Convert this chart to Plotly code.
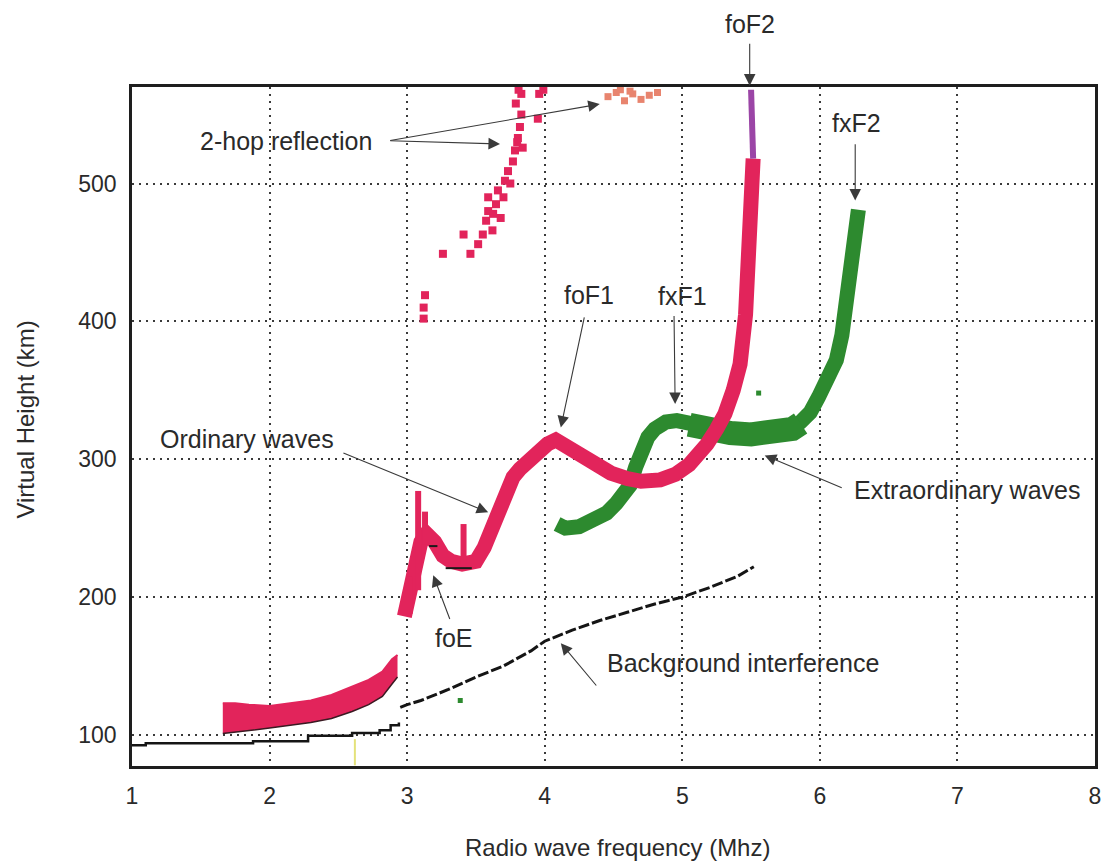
import plotly.graph_objects as go

# ---------------- data ----------------
# E-layer ordinary trace (band)
e_f = [1.66, 1.75, 1.85, 2.0, 2.15, 2.3, 2.45, 2.6, 2.72, 2.82, 2.89, 2.93]
e_low = [101, 102, 103, 105, 107, 109, 112, 117, 122, 128, 137, 142]
e_up = [123, 123, 122, 121, 123, 125, 129, 135, 140, 146, 155, 158]

# F-layer ordinary trace (centre line)
o_f = [2.98, 3.0, 3.04, 3.08, 3.1, 3.14, 3.2, 3.26, 3.32, 3.4, 3.5, 3.56, 3.62, 3.67,
       3.72, 3.77, 3.82, 3.88, 3.95, 4.02, 4.08, 4.15, 4.24, 4.35, 4.48, 4.6, 4.7,
       4.84, 4.95, 5.05, 5.12, 5.18, 5.25, 5.31, 5.37, 5.42, 5.46, 5.49, 5.51, 5.515]
o_h = [186, 196, 203, 225, 240, 246, 240, 230, 226, 224, 226, 236, 250, 265,
       279, 287, 293, 299, 306, 311, 314, 310, 304, 297, 290, 286, 284,
       285, 289, 296, 303, 311, 322, 333, 350, 369, 405, 453, 502, 518]
# foF2 cusp top (purple part)
p_f = [5.515, 5.507, 5.5]
p_h = [518, 550, 568]
# spikes on the ordinary trace
sp_f = [3.08, 3.08, None, 3.41, 3.41, None, 3.13, 3.13, None, 3.02, 3.02]
sp_h = [205, 277, None, 224, 253, None, 238, 262, None, 188, 215]
# dark edges of the ordinary trace
ed_f = [3.16, 3.22, None, 3.28, 3.47]
ed_h = [237, 237, None, 221, 221]

# Extraordinary trace (centre line)
x_f = [4.09, 4.15, 4.25, 4.35, 4.45, 4.52, 4.58, 4.62, 4.66, 4.7, 4.75, 4.8, 4.88,
       4.96, 5.05, 5.2, 5.35, 5.5, 5.65, 5.8, 5.86, 5.93, 5.99, 6.06, 6.12, 6.16,
       6.19, 6.22, 6.245, 6.26, 6.28]
x_h = [253, 250, 251, 255, 261, 268, 274, 281, 294, 306, 316, 322, 327,
       328, 326, 321, 318, 317, 318, 322, 327, 334, 345, 357, 372, 390,
       410, 435, 455, 472, 481]
# thicker plateau of the extraordinary trace
xp_f = [5.05, 5.2, 5.35, 5.5, 5.65, 5.8, 5.86]
xp_h = [325, 321, 319, 318, 319, 322, 326]
# isolated green specks
gs_f = [3.386, 5.555]
gs_h = [125, 348]

# 2-hop reflection echoes
h2_f = [3.12, 3.12, 3.13, 3.26, 3.41, 3.46, 3.516, 3.55, 3.574, 3.589, 3.625, 3.646,
        3.589, 3.66, 3.68, 3.711, 3.733, 3.769, 3.784, 3.84, 3.805, 3.83, 3.82,
        3.79, 3.83, 3.81, 3.96, 3.95, 3.99, 3.7, 3.75, 3.8, 3.62]
h2_h = [402, 410, 419, 449, 463, 449, 456, 463, 473, 480, 478, 485,
        490, 495, 475, 502, 509, 516, 524, 526, 533, 550, 541,
        558, 565, 568, 565, 547, 568, 490, 500, 530, 466]
h2top_f = [4.46, 4.52, 4.58, 4.64, 4.7, 4.76, 4.82, 4.55, 4.62]
h2top_h = [563, 566, 560, 565, 561, 564, 566, 568, 567]

# Background interference
bgl_f = [1.0, 1.1, 1.88, 2.28, 2.6, 2.8, 2.88, 2.94]
bgl_h = [92.5, 94, 95.5, 99.5, 101.5, 103.5, 107, 109]
bgu_f = [2.95, 3.0, 3.1, 3.3, 3.5, 3.7, 3.9, 4.0, 4.2, 4.4, 4.6, 4.8, 5.0, 5.2, 5.4, 5.52]
bgu_h = [120, 122, 125, 133, 142, 150, 161, 168, 176, 183, 189, 195, 200, 207, 215, 222]
# faint yellow streak
ys_f = [2.62, 2.62]
ys_h = [78, 97]

x_ticks = [1, 2, 3, 4, 5, 6, 7, 8]
y_ticks = [100, 200, 300, 400, 500]

RED = "#e2245b"
GREEN = "#2d8a2f"
FONT = "Liberation Sans, Arial, sans-serif"
TXT = "#2a2a2a"

fig = go.Figure()

# E-layer band
fig.add_trace(go.Scatter(x=e_f, y=e_low, mode="lines",
                         line=dict(color="#3a1a22", width=1.5), hoverinfo="skip"))
fig.add_trace(go.Scatter(x=e_f, y=e_up, mode="lines", fill="tonexty",
                         fillcolor=RED, line=dict(color=RED, width=2), hoverinfo="skip"))

# background interference
fig.add_trace(go.Scatter(x=bgl_f, y=bgl_h, mode="lines", line_shape="hv",
                         line=dict(color="#151515", width=2.5)))
fig.add_trace(go.Scatter(x=bgu_f, y=bgu_h, mode="lines",
                         line=dict(color="#151515", width=3, dash="11px,3px")))
fig.add_trace(go.Scatter(x=ys_f, y=ys_h, mode="lines",
                         line=dict(color="#e4e27a", width=2)))

# extraordinary
fig.add_trace(go.Scatter(x=x_f, y=x_h, mode="lines",
                         line=dict(color=GREEN, width=15)))
fig.add_trace(go.Scatter(x=xp_f, y=xp_h, mode="lines",
                         line=dict(color=GREEN, width=24)))
fig.add_trace(go.Scatter(x=gs_f, y=gs_h, mode="markers",
                         marker=dict(color=GREEN, size=5, symbol="square")))

# ordinary F
fig.add_trace(go.Scatter(x=o_f, y=o_h, mode="lines",
                         line=dict(color=RED, width=15)))
fig.add_trace(go.Scatter(x=sp_f, y=sp_h, mode="lines",
                         line=dict(color=RED, width=6)))
fig.add_trace(go.Scatter(x=p_f, y=p_h, mode="lines",
                         line=dict(color="#9b45a6", width=6)))
fig.add_trace(go.Scatter(x=ed_f, y=ed_h, mode="lines",
                         line=dict(color="#1a1a1a", width=2)))

# 2-hop
fig.add_trace(go.Scatter(x=h2_f, y=h2_h, mode="markers",
                         marker=dict(color=RED, size=8, symbol="square")))
fig.add_trace(go.Scatter(x=h2top_f, y=h2top_h, mode="markers",
                         marker=dict(color="#e8846e", size=7, symbol="square")))

# ---------------- annotations ----------------
ann = []


def text(t, x, y, xref="x", yref="y", angle=0, size=25):
    ann.append(dict(text=t, x=x, y=y, xref=xref, yref=yref, showarrow=False,
                    textangle=angle, font=dict(family=FONT, size=size, color=TXT),
                    xanchor="center", yanchor="middle"))


def arrow(x, y, ax, ay, xref="x", yref="y", axref="x", ayref="y"):
    ann.append(dict(text="", x=x, y=y, ax=ax, ay=ay, xref=xref, yref=yref,
                    axref=axref, ayref=ayref, showarrow=True, arrowhead=2,
                    arrowsize=2.1, arrowwidth=1.1, arrowcolor="#3a3a3a",
                    standoff=0, startstandoff=0))


text("2-hop reflection", 2.12, 530.5)
arrow(3.675, 528.7, 2.866, 531)
arrow(4.40, 557.6, 2.866, 531)

text("foF2", 5.49, 1.093, yref="paper")
arrow(5.49, 1.002, 5.49, 1.066, yref="y domain", ayref="y domain")

text("fxF2", 6.265, 544)
arrow(6.257, 487.7, 6.257, 529.5)

text("foF1", 4.32, 419)
arrow(4.117, 323, 4.29, 404)

text("fxF1", 4.998, 418.6)
arrow(4.948, 340, 4.94, 405)

text("Ordinary waves", 1.839, 315)
arrow(3.589, 261.5, 2.526, 305)

text("Extraordinary waves", 7.067, 277.4)
arrow(5.599, 302.8, 6.17, 278.9)

text("foE", 3.343, 170)
arrow(3.19, 215.9, 3.314, 183)

text("Background interference", 5.44, 152)
arrow(4.117, 166.6, 4.384, 134.8)

# axis titles
text("Radio wave frequency (Mhz)", 0.504, -0.1195, xref="paper", yref="paper", size=24)
text("Virtual Height (km)", -0.1105, 0.5096, xref="paper", yref="paper", angle=-90, size=24)

fig.update_layout(
    width=1113, height=864,
    margin=dict(l=132, r=13, t=87, b=98),
    paper_bgcolor="white", plot_bgcolor="white",
    showlegend=False,
    annotations=ann,
    font=dict(family=FONT, size=23, color=TXT),
)
fig.update_xaxes(range=[1, 8], tickvals=x_ticks, ticktext=[str(v) for v in x_ticks],
                 showgrid=True, gridcolor="#3a3a3a", gridwidth=2, griddash="2px,5px",
                 showline=True, mirror=True, linecolor="#1e1e1e", linewidth=2.5,
                 zeroline=False, ticks="", ticklabelstandoff=8,
                 tickfont=dict(family=FONT, size=23, color=TXT))
fig.update_yaxes(range=[77.5, 570], tickvals=y_ticks, ticktext=[str(v) for v in y_ticks],
                 showgrid=True, gridcolor="#3a3a3a", gridwidth=2, griddash="2px,5px",
                 showline=True, mirror=True, linecolor="#1e1e1e", linewidth=2.5,
                 zeroline=False, ticks="", ticklabelstandoff=8,
                 tickfont=dict(family=FONT, size=23, color=TXT))

fig.write_html("out.html")
